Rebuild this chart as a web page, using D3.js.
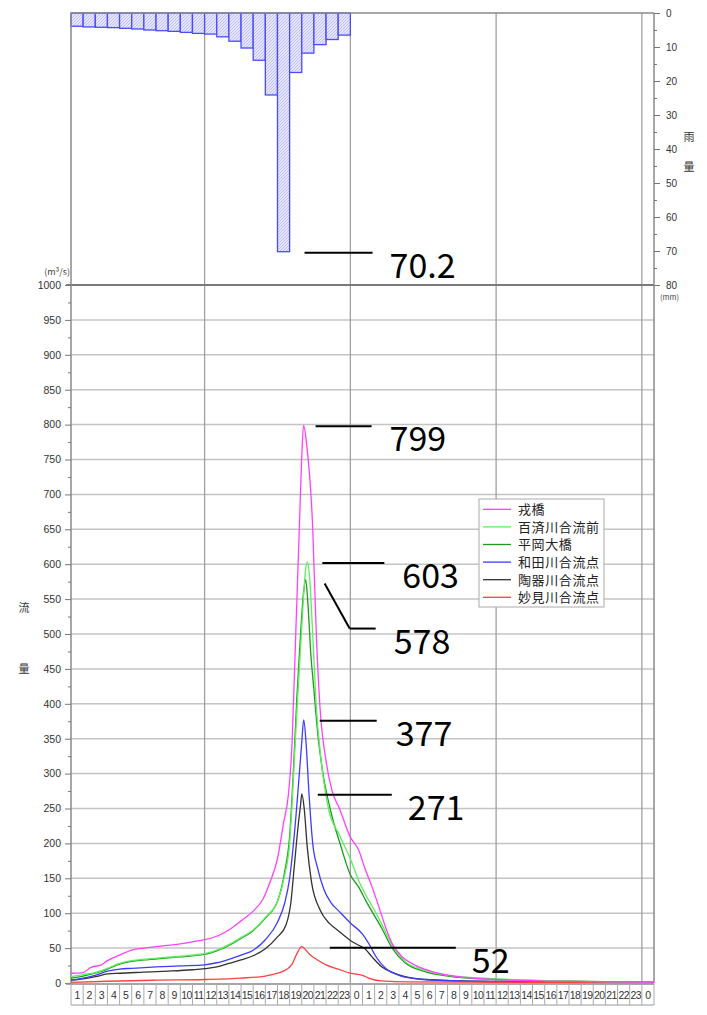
<!DOCTYPE html>
<html>
<head>
<meta charset="utf-8">
<script src="https://cdn.jsdelivr.net/npm/d3@7"></script>
<style>
  body { margin: 0; background: #fff; }
  svg { display: block; font-family: "Noto Sans CJK JP", sans-serif; }
</style>
</head>
<body>
<div id="chart"></div>
<script>
// hour cells along the bottom (2 days)
const hourLabels = ["1","2","3","4","5","6","7","8","9","10","11","12","13","14","15","16","17","18","19","20","21","22","23","0",
                    "1","2","3","4","5","6","7","8","9","10","11","12","13","14","15","16","17","18","19","20","21","22","23","0"];

// hourly rainfall (mm), hour 1..23 of day 1
const rainHours = [1,2,3,4,5,6,7,8,9,10,11,12,13,14,15,16,17,18,19,20,21,22,23];
const rainValues = [3.9,4.1,4.2,4.3,4.5,4.7,5.0,5.2,5.4,5.7,6.0,6.2,7.0,8.3,10.3,13.9,24.1,70.2,17.5,11.8,9.3,7.8,6.5];

// discharge (m3/s), time in hours from the left edge
const ebisuT = [0,1,1.6,2.5,3,4,5,6,7,8,9,10,11,12,13,14,15,15.8,16.4,17,17.5,17.9,18.2,18.5,18.8,19.0,19.15,19.4,19.9,20.2,20.5,21,21.5,22.1,23,23.7,24.2,24.8,25.35,25.9,26.45,27.3,28.4,29.8,31.7,35,38.6,43,48];
const ebisuV = [14,15,22,26,32,40,47,50,52,54,56,59,62,67,76,89,103,120,145,178,229,270,343,498,652,755,799,772,652,498,395,318,275,250,209,190,164,137,109,80,56,37,25,16,9.5,5,3,2,1];

const kudaraT = [0,1,2,3,4,5,6,8,10,11,12,13,14,15,16,17,17.6,18.0,18.3,18.6,18.9,19.15,19.3,19.46,19.65,19.9,20.2,20.6,21.2,22.1,23.0,23.7,24.3,24.8,25.6,26.4,27.5,29,31,35,40,48];
const kudaraV = [9,12,15,21,28,32,34,37,40,42,47,55,65,76,94,117,155,200,290,390,480,555,590,603,580,500,395,318,250,212,178,146,125,110,84,55,31,19,11,6,3,1];

const hiraokaT = [0,1,2,3,4,5,6,8,10,11,12,13,14,15,16,17,17.6,18.0,18.3,18.6,18.9,19.15,19.32,19.5,19.75,20.0,20.3,20.7,21.4,22.2,23.0,23.7,24.3,24.8,25.6,26.4,27.5,29,31,35,40,48];
const hiraokaV = [7,10,14,20,27,31,33,36,39,41,46,54,64,75,93,117,160,210,300,410,500,560,578,545,470,420,360,305,245,197,155,137,117,102,78,51,29,17,10,5,3,1];

const wadaT = [0,1,2,3,4,5,7,9,11,12,13,14,15,16,17,17.6,18.0,18.4,18.8,19.0,19.16,19.35,19.6,19.9,20.3,20.8,21.4,22.0,23.0,24.0,24.5,25.1,25.9,27,29,33,40,48];
const wadaV = [4,7,11,17,20,21,23,24.5,26,29,34,40,47,62,87,115,150,215,300,345,377,345,270,200,165,135,115,104,86,70,57,38,21,11,5,2.5,1.5,1];

const tokiT = [0,1,2,3,4,6,8,10,11,12,13,14,15,16,17,17.7,18.1,18.4,18.7,18.9,19.0,19.2,19.45,19.8,20.5,21.3,22.0,23.0,23.7,24.2,24.8,25.6,26.5,27.5,29.2,33,40,48];
const tokiV = [4,6,9,13,14,15.5,17,19,20.5,23,28,33,39,49,66,83,115,170,225,255,271,250,195,145,105,85,75,61,54,49,37,23,15,9,5,2.5,1.5,1];

const myokenT = [0,3,7,11,14,16,17,17.8,18.2,18.6,19.0,19.3,19.7,20.3,21,22,23,24,24.5,25.5,28,48];
const myokenV = [1,2.5,4,5,7,10,14,20,27,42,52,48,40,33,26,20,14,11,7,3,1.5,0.5];

const seriesNames = ["戎橋","百済川合流前","平岡大橋","和田川合流点","陶器川合流点","妙見川合流点"];
const seriesColors = ["#ff40ff","#5cee5c","#1f9a1f","#3c3cff","#333333","#ff4040"];
const seriesT = [ebisuT, kudaraT, hiraokaT, wadaT, tokiT, myokenT];
const seriesV = [ebisuV, kudaraV, hiraokaV, wadaV, tokiV, myokenV];

// peak callout texts: rain peak, then each series
const peakLabels = ["70.2","799","603","578","377","271","52"];

function draw() {
    const width = 707;
    const height = 1015;
    const left = 71, right = 654;
    const rainTop = 13, rainBottom = 285, flowBottom = 983;
    const cellBottom = 1005;

    const svg = d3.select("#chart").append("svg")
        .attr("width", width)
        .attr("height", height);

    const x = d3.scaleLinear().domain([0, 48]).range([left, right]);
    const yRain = d3.scaleLinear().domain([0, 80]).range([rainTop, rainBottom]);
    const yFlow = d3.scaleLinear().domain([0, 1000]).range([flowBottom, rainBottom]);

    // hatch pattern for rain bars
    const pat = svg.append("defs").append("pattern")
        .attr("id", "hatch")
        .attr("patternUnits", "userSpaceOnUse")
        .attr("width", 3).attr("height", 3);
    pat.append("rect").attr("width", 3).attr("height", 3).attr("fill", "#e6e6ff");
    pat.append("path").attr("d", "M0,3 L3,0").attr("stroke", "#b4b4ff").attr("stroke-width", 0.8);

    // horizontal grid (flow)
    svg.append("g").selectAll("line")
        .data(d3.range(50, 1000, 50))
        .join("line")
        .attr("x1", left).attr("x2", right)
        .attr("y1", d => yFlow(d)).attr("y2", d => yFlow(d))
        .attr("stroke", "#c4c4c4").attr("stroke-width", 1.5);

    // vertical grid (both panels)
    svg.append("g").selectAll("line")
        .data([11, 23, 35, 47])
        .join("line")
        .attr("x1", d => x(d)).attr("x2", d => x(d))
        .attr("y1", rainTop).attr("y2", flowBottom)
        .attr("stroke", "#a0a0a0").attr("stroke-width", 1.3);

    // rain bars
    svg.append("g").selectAll("rect")
        .data(rainHours.map((h, i) => ({h: h, v: rainValues[i]})))
        .join("rect")
        .attr("x", d => x(d.h - 1))
        .attr("width", d => x(d.h) - x(d.h - 1))
        .attr("y", yRain(0))
        .attr("height", d => yRain(d.v) - yRain(0))
        .attr("fill", "url(#hatch)")
        .attr("stroke", "#4a4aff")
        .attr("stroke-width", 1.3);

    // frame lines
    svg.append("line").attr("x1", left).attr("x2", right).attr("y1", rainTop).attr("y2", rainTop)
        .attr("stroke", "#8a8a8a").attr("stroke-width", 1.5);
    svg.append("line").attr("x1", left - 5).attr("x2", right).attr("y1", rainBottom).attr("y2", rainBottom)
        .attr("stroke", "#7a7a7a").attr("stroke-width", 1.8);
    svg.append("line").attr("x1", left).attr("x2", left).attr("y1", rainTop).attr("y2", flowBottom)
        .attr("stroke", "#8a8a8a").attr("stroke-width", 1.5);
    svg.append("line").attr("x1", right).attr("x2", right).attr("y1", rainTop).attr("y2", flowBottom)
        .attr("stroke", "#8a8a8a").attr("stroke-width", 1.5);

    // left flow axis
    const yAxis = svg.append("g")
        .attr("transform", `translate(${left},0)`)
        .call(d3.axisLeft(yFlow).tickValues(d3.range(0, 1001, 50)).tickFormat(d3.format("d"))
            .tickSize(6).tickPadding(4));
    yAxis.select(".domain").remove();
    yAxis.selectAll(".tick line").attr("stroke", "#777");
    yAxis.selectAll("text").attr("fill", "#333").style("font-size", "10.5px")
        .style("font-family", "'Liberation Sans', sans-serif");
    const yMinor = svg.append("g")
        .attr("transform", `translate(${left},0)`)
        .call(d3.axisLeft(yFlow).tickValues(d3.range(25, 1000, 50)).tickSize(3).tickFormat(""));
    yMinor.select(".domain").remove();
    yMinor.selectAll(".tick line").attr("stroke", "#777");

    svg.append("text").attr("x", 70).attr("y", 275).attr("text-anchor", "end")
        .attr("fill", "#444").style("font-size", "9px").text("(m³/s)");
    svg.append("text").attr("x", 24).attr("y", 612).attr("text-anchor", "middle")
        .attr("fill", "#333").style("font-size", "11px").text("流");
    svg.append("text").attr("x", 24).attr("y", 673).attr("text-anchor", "middle")
        .attr("fill", "#333").style("font-size", "11px").text("量");

    // right rain axis
    const rAxis = svg.append("g")
        .attr("transform", `translate(${right},0)`)
        .call(d3.axisRight(yRain).tickValues(d3.range(0, 81, 10)).tickSize(6).tickPadding(6));
    rAxis.select(".domain").remove();
    rAxis.selectAll(".tick line").attr("stroke", "#777");
    rAxis.selectAll("text").attr("fill", "#333").style("font-size", "10px")
        .style("font-family", "'Liberation Sans', sans-serif");
    const rMinor = svg.append("g")
        .attr("transform", `translate(${right},0)`)
        .call(d3.axisRight(yRain).tickValues(d3.range(5, 80, 10)).tickSize(3).tickFormat(""));
    rMinor.select(".domain").remove();
    rMinor.selectAll(".tick line").attr("stroke", "#777");

    svg.append("text").attr("x", 689).attr("y", 141).attr("text-anchor", "middle")
        .attr("fill", "#333").style("font-size", "11px").text("雨");
    svg.append("text").attr("x", 689).attr("y", 171).attr("text-anchor", "middle")
        .attr("fill", "#333").style("font-size", "11px").text("量");
    svg.append("text").attr("x", 660).attr("y", 299.5)
        .attr("fill", "#444").style("font-size", "7.5px").text("(mm)");

    // hour cells
    const cells = svg.append("g");
    cells.append("line").attr("x1", left - 5).attr("x2", right).attr("y1", flowBottom + 1).attr("y2", flowBottom + 1)
        .attr("stroke", "#888").attr("stroke-width", 1.3);
    cells.append("line").attr("x1", left).attr("x2", right).attr("y1", cellBottom).attr("y2", cellBottom)
        .attr("stroke", "#999").attr("stroke-width", 1.2);
    cells.selectAll(".sep")
        .data(d3.range(0, 49))
        .join("line")
        .attr("class", "sep")
        .attr("x1", d => x(d)).attr("x2", d => x(d))
        .attr("y1", flowBottom + 1).attr("y2", cellBottom)
        .attr("stroke", "#aaa").attr("stroke-width", 1);
    cells.selectAll("text")
        .data(hourLabels)
        .join("text")
        .attr("x", (d, i) => (x(i) + x(i + 1)) / 2)
        .attr("y", 999)
        .attr("text-anchor", "middle")
        .attr("fill", "#333")
        .style("font-size", "10.5px")
        .style("font-family", "'Liberation Sans', sans-serif")
        .style("letter-spacing", "-0.6px")
        .text(d => d);

    // flow lines
    const line = d3.line()
        .curve(d3.curveMonotoneX)
        .x(d => x(d[0]))
        .y(d => yFlow(d[1]));

    const order = [4, 3, 5, 2, 1, 0];
    svg.append("g").selectAll("path")
        .data(order)
        .join("path")
        .attr("fill", "none")
        .attr("stroke", i => seriesColors[i])
        .attr("stroke-width", 1.3)
        .attr("stroke-linejoin", "round")
        .attr("d", i => line(seriesT[i].map((t, k) => [t, seriesV[i][k]])));

    // legend
    const lg = svg.append("g").attr("transform", "translate(479,499)");
    lg.append("rect").attr("width", 125).attr("height", 108)
        .attr("fill", "#fff").attr("stroke", "#aaa").attr("stroke-width", 1);
    const rows = lg.selectAll(".row").data(seriesNames).join("g")
        .attr("class", "row")
        .attr("transform", (d, i) => `translate(0,${10.3 + i * 17.6})`);
    rows.append("line").attr("x1", 4).attr("x2", 32)
        .attr("stroke", (d, i) => seriesColors[i]).attr("stroke-width", 1.3);
    rows.append("text").attr("x", 39).attr("y", 4.8)
        .attr("fill", "#222").style("font-size", "13px").style("letter-spacing", "0.6px")
        .text(d => d);

    // peak callouts
    const peakOf = i => {
        const v = seriesV[i];
        const k = v.indexOf(d3.max(v));
        return {px: x(seriesT[i][k]), py: yFlow(v[k])};
    };
    const rk = rainValues.indexOf(d3.max(rainValues));
    const callouts = [
        {p: {px: (x(rainHours[rk] - 1) + x(rainHours[rk])) / 2, py: yRain(rainValues[rk])}, dx: 21, len: 68, gap: 17},
        {p: peakOf(0), dx: 12, len: 56, gap: 18},
        {p: peakOf(1), dx: 15, len: 62, gap: 18},
        {p: peakOf(2), dx: 19, len: 26, gap: 18, bend: [25, 48]},
        {p: peakOf(3), dx: 16, len: 57, gap: 19},
        {p: peakOf(4), dx: 16, len: 74, gap: 16},
        {p: peakOf(5), dx: 28, len: 126, gap: 16}
    ];
    const cg = svg.append("g");
    callouts.forEach((c, i) => {
        let x0 = c.p.px + c.dx, y0 = c.p.py + 1;
        if (c.bend) {
            cg.append("line").attr("x1", x0).attr("y1", y0 + 3)
                .attr("x2", x0 + c.bend[0]).attr("y2", y0 + c.bend[1])
                .attr("stroke", "#000").attr("stroke-width", 2);
            x0 += c.bend[0];
            y0 += c.bend[1];
        }
        cg.append("line").attr("x1", x0).attr("x2", x0 + c.len)
            .attr("y1", y0).attr("y2", y0)
            .attr("stroke", "#000").attr("stroke-width", 2);
        cg.append("text").attr("x", x0 + c.len + c.gap).attr("y", y0 + 25)
            .attr("fill", "#000").style("font-size", "34px")
            .text(peakLabels[i]);
    });
}

draw();
</script>
</body>
</html>
